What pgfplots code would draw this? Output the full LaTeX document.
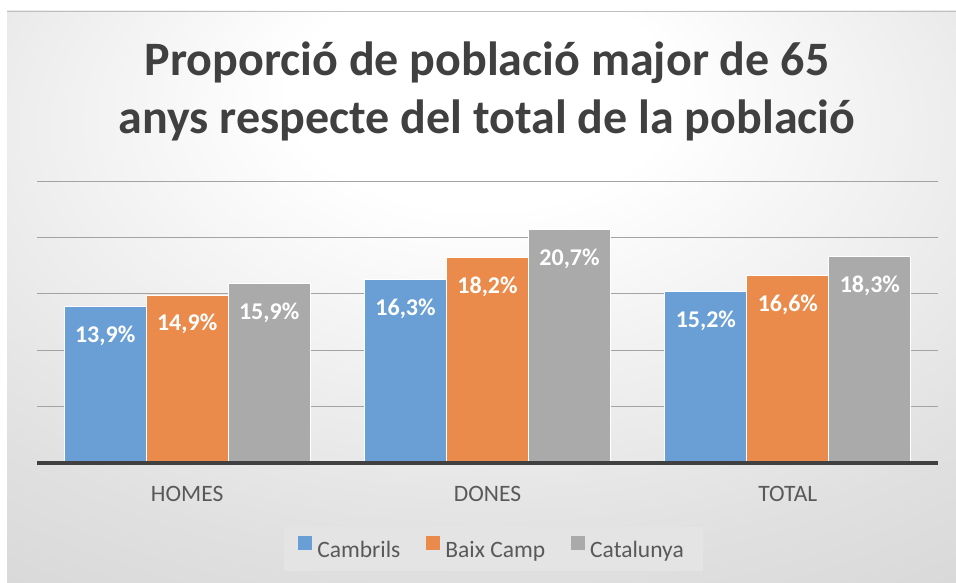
\documentclass[border=0pt]{standalone}
\usepackage{fontspec}
\setmainfont{Carlito}
\usepackage{pgfplots}
\pgfplotsset{compat=1.18}
\definecolor{cblue}{RGB}{106,159,214}
\definecolor{corange}{RGB}{235,139,75}
\definecolor{cgray}{RGB}{170,170,170}
\definecolor{ctitle}{RGB}{64,64,64}
\definecolor{clabel}{RGB}{89,89,89}
\definecolor{clegbg}{RGB}{228,228,228}
\definecolor{cbase}{RGB}{64,64,64}
\pgfdeclareradialshading{bgshade}{\pgfpoint{0bp}{20bp}}{color(0bp)=(white); color(10bp)=(white); color(35bp)=(black!12); color(55bp)=(black!19); color(90bp)=(black!26)}
\begin{document}
\begin{tikzpicture}[x=1pt,y=1pt]
\fill[white] (0,0) rectangle (956,583);
\shade[shading=bgshade] (7,0) rectangle (956,572);
\draw[black!25, line width=0.8pt] (7,572) -- (956,572);
\begin{axis}[
  at={(37pt,120pt)}, anchor=south west,
  scale only axis, width=901pt, height=282pt,
  clip=false,
  ybar=0pt, bar width=82pt,
  xmin=-0.5, xmax=2.5, ymin=0, ymax=25,
  xtick={0,1,2}, xticklabels={HOMES,DONES,TOTAL},
  ytick={0,5,...,25}, yticklabels={},
  major tick length=0pt,
  ymajorgrids, grid style={black!36, line width=0.8pt},
  axis line style={draw=none},
  xticklabel style={font=\fontsize{23.5}{28}\selectfont, text=clabel, anchor=base, yshift=-39pt},
  nodes near coords={\pgfmathprintnumber{\pgfplotspointmeta}\%},
  nodes near coords style={font=\bfseries\fontsize{24}{28}\selectfont, text=white, anchor=base, yshift=-36pt},
  /pgf/number format/use comma,
  /pgf/number format/fixed,
  /pgf/number format/fixed zerofill,
  /pgf/number format/precision=1,
  /pgf/number format/assume math mode=true,
  legend columns=3,
  legend style={at={(0.5067,-0.305)}, anchor=center, fill=clegbg, draw=none,
    font=\fontsize{23.5}{28}\selectfont, text=clabel,
    nodes={inner xsep=5pt, inner ysep=3pt},
    /tikz/every even column/.append style={column sep=21pt},
    inner xsep=14pt, inner ysep=9pt},
  legend image code/.code={\fill[#1, draw=none] (0pt,0.5pt) rectangle (14pt,14.5pt);},
]
\addplot[fill=cblue, draw=white, line width=0.8pt] coordinates {(0,13.9) (1,16.3) (2,15.2)};
\addplot[fill=corange, draw=white, line width=0.8pt] coordinates {(0,14.9) (1,18.2) (2,16.6)};
\addplot[fill=cgray, draw=white, line width=0.8pt] coordinates {(0,15.9) (1,20.7) (2,18.3)};
\legend{Cambrils, Baix Camp, Catalunya}
\draw[cbase, line width=3.5pt] (axis cs:-0.5,0) -- (axis cs:2.5,0);
\end{axis}
\node[anchor=base, font=\bfseries\fontsize{48}{56}\selectfont, text=ctitle] at (487,507) {Proporció de població major de 65};
\node[anchor=base, font=\bfseries\fontsize{48}{56}\selectfont, text=ctitle] at (487,449) {anys respecte del total de la població};
\pgfresetboundingbox
\useasboundingbox (0,0) rectangle (956,583);
\end{tikzpicture}
\end{document}
